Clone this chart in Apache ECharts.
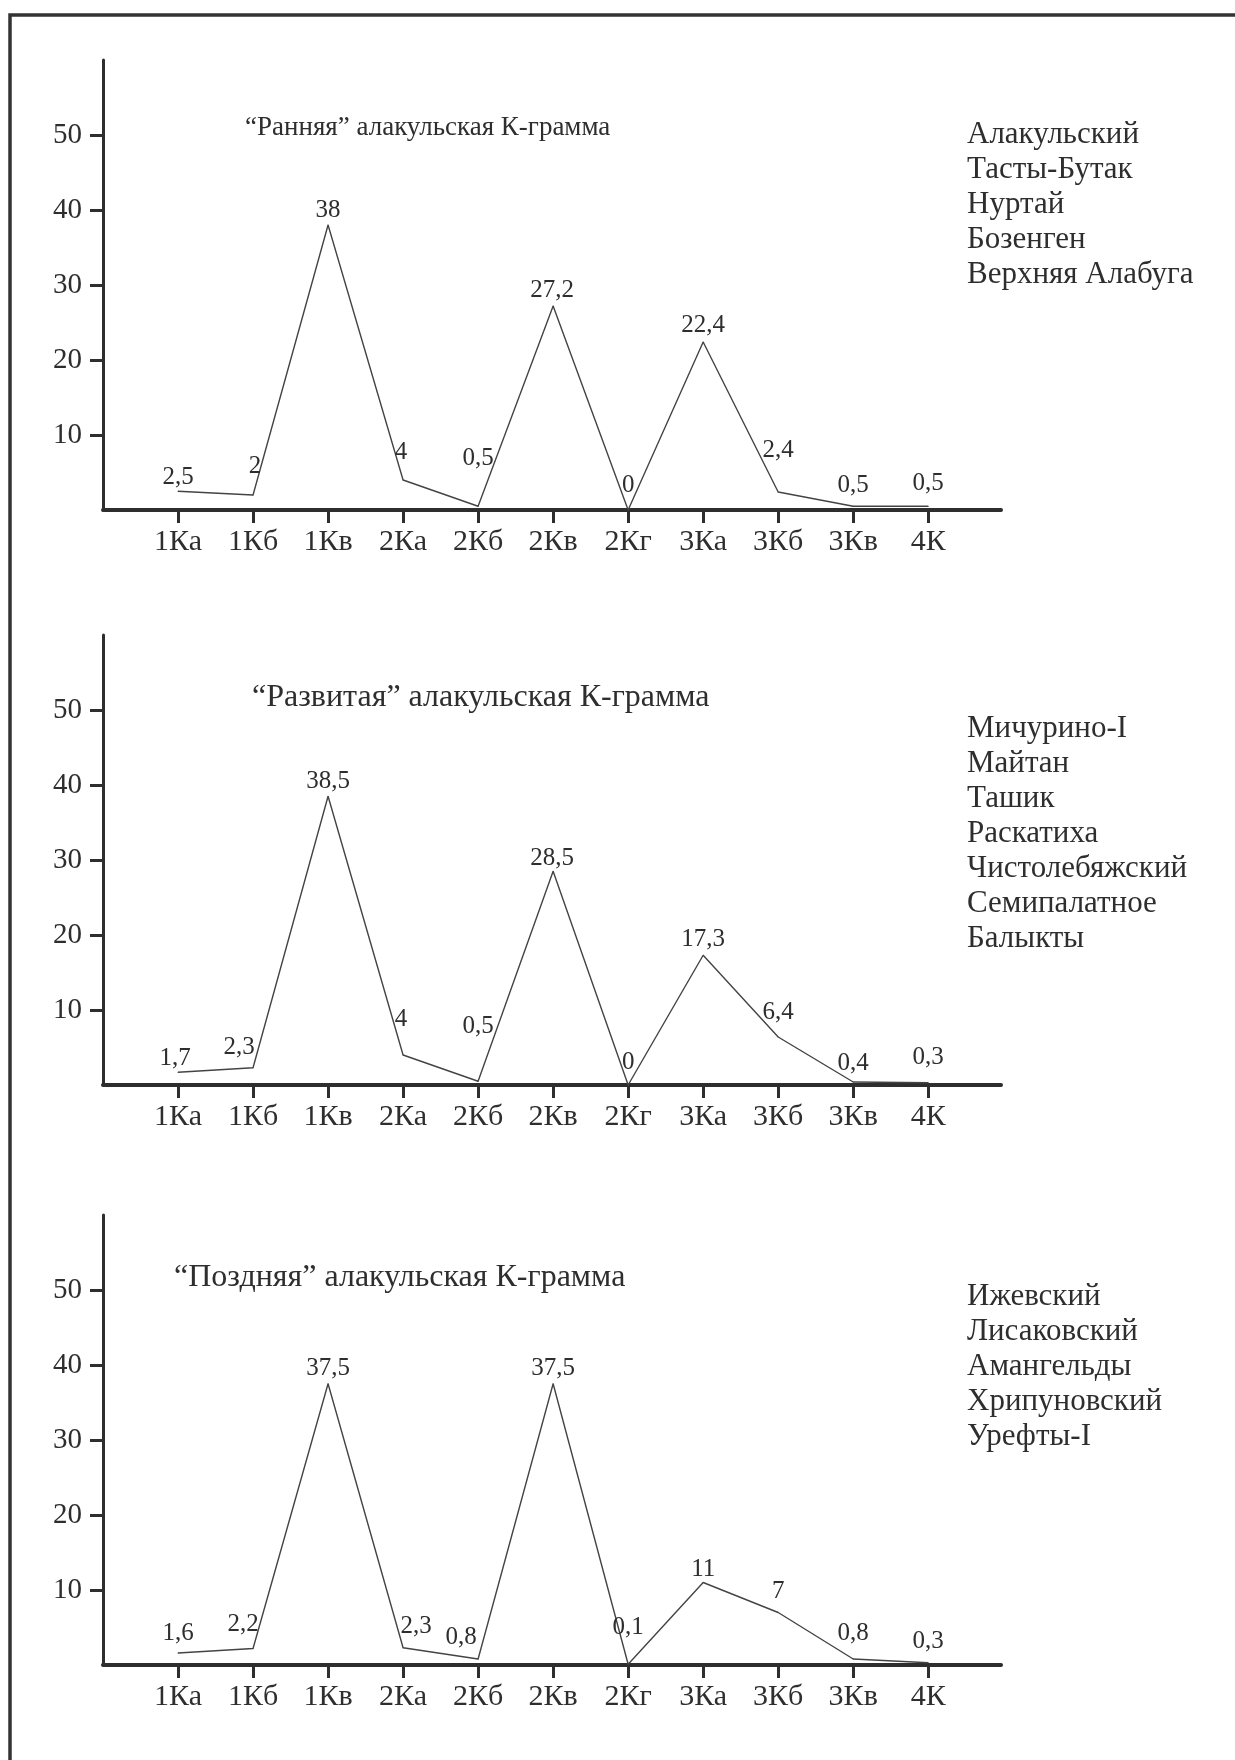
<!DOCTYPE html>
<html>
<head>
<meta charset="utf-8">
<script src="https://cdn.jsdelivr.net/npm/echarts@6/dist/echarts.min.js"></script>
<style>
  html, body { margin: 0; padding: 0; background: #fff; }
  #chart { width: 1235px; height: 1760px; }
</style>
</head>
<body>
<div id="chart"></div>
<script>
// ---- data ----
const categories = ['1Ка', '1Кб', '1Кв', '2Ка', '2Кб', '2Кв', '2Кг', '3Ка', '3Кб', '3Кв', '4К'];
const yTickValues = [10, 20, 30, 40, 50];

const earlyValues = [2.5, 2, 38, 4, 0.5, 27.2, 0, 22.4, 2.4, 0.5, 0.5];
const developedValues = [1.7, 2.3, 38.5, 4, 0.5, 28.5, 0, 17.3, 6.4, 0.4, 0.3];
const lateValues = [1.6, 2.2, 37.5, 2.3, 0.8, 37.5, 0.1, 11, 7, 0.8, 0.3];

const earlyTitle = '“Ранняя” алакульская К-грамма';
const developedTitle = '“Развитая” алакульская К-грамма';
const lateTitle = '“Поздняя” алакульская К-грамма';

const earlySites = ['Алакульский', 'Тасты-Бутак', 'Нуртай', 'Бозенген', 'Верхняя Алабуга'];
const developedSites = ['Мичурино-I', 'Майтан', 'Ташик', 'Раскатиха', 'Чистолебяжский', 'Семипалатное', 'Балыкты'];
const lateSites = ['Ижевский', 'Лисаковский', 'Амангельды', 'Хрипуновский', 'Урефты-I'];

// ---- label placement (style only, separate from data) ----
const earlyLabelShift = [[0,14],[2,29],[0,15],[-2,28],[0,48],[-1,16],[0,25],[0,17],[0,42],[0,21],[0,23]];
const developedLabelShift = [[-3,14],[-14,20],[0,15],[-2,36],[0,55],[-1,13],[0,23],[0,16],[0,25],[0,19],[0,25]];
const lateLabelShift = [[0,20],[-10,24],[0,15],[13,21],[-17,22],[0,15],[0,37],[0,13],[0,21],[0,26],[0,21]];

const FONT = "'Liberation Serif', 'DejaVu Serif', serif";
const INK = '#2e2e2e';

const panels = [
  { values: earlyValues, shift: earlyLabelShift, title: earlyTitle, sites: earlySites,
    top: 60, titleLeft: 245, titleMid: 128, titleSize: 27, sitesMid: 135, labelSize: 25 },
  { values: developedValues, shift: developedLabelShift, title: developedTitle, sites: developedSites,
    top: 635, titleLeft: 252, titleMid: 698, titleSize: 32, sitesMid: 729, labelSize: 25 },
  { values: lateValues, shift: lateLabelShift, title: lateTitle, sites: lateSites,
    top: 1215, titleLeft: 174, titleMid: 1278, titleSize: 32, sitesMid: 1297, labelSize: 25 }
];

const grid = [], xAxis = [], yAxis = [], series = [], title = [];
const catIdx = categories.map((c, i) => i);

panels.forEach((p, k) => {
  grid.push({ left: 103, right: 234, top: p.top, height: 450 });
  xAxis.push({
    type: 'value', gridIndex: k, min: -1, max: 10.97,
    splitLine: { show: false },
    axisLine: { show: true, onZero: false, lineStyle: { color: INK, width: 4 } },
    axisTick: { show: true, customValues: catIdx, length: 13, lineStyle: { color: INK, width: 3 } },
    axisLabel: { show: true, customValues: catIdx, margin: 17,
      formatter: v => categories[Math.round(v)] || '',
      fontFamily: FONT, fontSize: 30, color: INK }
  });
  yAxis.push({
    type: 'value', gridIndex: k, min: 0, max: 60,
    splitLine: { show: false },
    axisLine: { show: true, onZero: false, lineStyle: { color: INK, width: 3 } },
    axisTick: { show: true, customValues: yTickValues, length: 13, lineStyle: { color: INK, width: 3 } },
    axisLabel: { show: true, customValues: yTickValues, margin: 21,
      fontFamily: FONT, fontSize: 29, color: INK }
  });
  series.push({
    type: 'line', xAxisIndex: k, yAxisIndex: k,
    data: p.values.map((v, i) => ({
      value: [i, v],
      label: { offset: [p.shift[i][0], -p.shift[i][1]] }
    })),
    symbol: 'circle', symbolSize: 1, showSymbol: true, showAllSymbol: true,
    itemStyle: { color: '#444' },
    lineStyle: { color: '#444', width: 1.4 },
    label: {
      show: true, position: 'inside',
      formatter: d => String(d.value[1]).replace('.', ','),
      fontFamily: FONT, fontSize: p.labelSize, color: INK
    },
    emphasis: { disabled: true },
    animation: false
  });
  const tlh = Math.round(p.titleSize * 1.2);
  title.push({
    text: p.title, left: p.titleLeft, top: p.titleMid - tlh / 2, padding: 0,
    textStyle: { fontFamily: FONT, fontSize: p.titleSize, fontWeight: 'normal', color: INK, lineHeight: tlh }
  });
  title.push({
    text: p.sites.join('\n'), left: 967, top: p.sitesMid - 17.5, padding: 0,
    textStyle: { fontFamily: FONT, fontSize: 31, fontWeight: 'normal', color: INK, lineHeight: 35 }
  });
});

const chart = echarts.init(document.getElementById('chart'), null, { renderer: 'canvas' });
chart.setOption({
  backgroundColor: '#ffffff',
  animation: false,
  title, grid, xAxis, yAxis, series,
  graphic: [{
    type: 'polyline', silent: true,
    shape: { points: [[10, 1760], [10, 15], [1235, 15]] },
    style: { stroke: '#333', lineWidth: 3.5, fill: null }
  }]
});
</script>
</body>
</html>
